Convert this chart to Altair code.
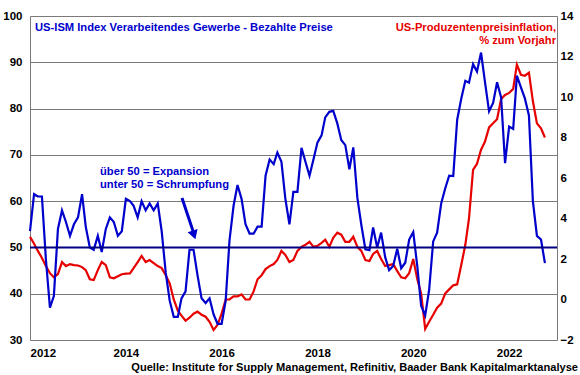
import altair as alt
import pandas as pd

# US-ISM Manufacturing prices paid index (monthly, Jan 2012 - Oct 2022)
ism_prices = [
    53.5, 61.5, 61.0, 61.0, 47.5, 37.0, 39.5, 54.0, 58.0, 55.5, 52.5, 55.0,
    56.5, 61.5, 54.5, 50.0, 49.5, 52.5, 49.0, 54.0, 56.5, 55.5, 52.5, 53.5,
    60.5, 60.0, 59.0, 56.5, 60.0, 58.0, 59.5, 58.0, 59.5, 53.5, 44.5, 38.5,
    35.0, 35.0, 39.0, 40.5, 49.5, 49.5, 44.0, 39.0, 38.0, 39.0, 35.5, 33.5,
    33.5, 38.5, 51.5, 59.0, 63.5, 60.5, 55.0, 53.0, 53.0, 54.5, 54.5, 65.5,
    69.0, 68.0, 70.5, 68.5, 60.5, 55.0, 62.0, 62.0, 71.5, 68.5, 65.5, 69.0,
    72.7, 74.2, 78.1, 79.3, 79.5, 76.8, 73.2, 72.1, 66.9, 71.6, 60.7, 54.9,
    49.6, 49.4, 54.3, 50.0, 53.2, 47.9, 45.1, 46.0, 49.7, 45.5, 46.7, 51.7,
    53.3, 45.9, 37.4, 35.3, 40.8, 51.3, 53.2, 59.5, 62.8, 65.5, 65.4, 77.6,
    82.1, 86.0, 85.6, 89.6, 88.0, 92.1, 85.7, 79.4, 81.2, 85.7, 82.4, 68.2,
    76.1, 75.6, 87.1, 84.6, 82.2, 78.5, 60.0, 52.5, 51.7, 46.6,
]

# US producer price inflation, % y/y (monthly, Jan 2012 - Oct 2022)
ppi_yoy = [
    3.1, 2.75, 2.4, 2.05, 1.65, 1.3, 1.1, 1.25, 1.85, 1.65, 1.75, 1.7,
    1.68, 1.6, 1.45, 1.0, 0.96, 1.45, 1.85, 1.7, 1.1, 1.05, 1.15, 1.25,
    1.28, 1.29, 1.55, 1.85, 2.15, 1.85, 1.95, 1.8, 1.65, 1.55, 1.2, 0.8,
    0.0, -0.55, -0.8, -1.05, -0.9, -0.7, -0.6, -0.75, -0.85, -1.1, -1.5, -1.25,
    -0.7, 0.0, 0.0, 0.15, 0.15, 0.25, 0.0, 0.0, 0.4, 1.0, 1.2, 1.5,
    1.65, 1.75, 1.95, 2.4, 2.2, 1.85, 1.95, 2.4, 2.6, 2.7, 2.85, 2.6,
    2.65, 2.8, 2.95, 2.6, 3.05, 3.3, 3.2, 2.85, 2.85, 3.1, 2.6, 2.4,
    1.95, 1.9, 2.25, 2.4, 2.0, 1.65, 1.7, 1.75, 1.4, 1.1, 1.05, 1.3,
    2.0, 1.0, 0.3, -1.45, -1.1, -0.75, -0.4, -0.2, 0.3, 0.5, 0.7, 0.75,
    1.7, 2.7, 4.0, 6.4, 6.7, 7.4, 7.8, 8.5, 8.7, 8.9, 9.9, 10.1,
    10.2, 10.4, 11.6, 11.1, 11.05, 11.2, 9.8, 8.7, 8.45, 8.0,
]

left_ticks = [30, 40, 50, 60, 70, 80, 90, 100]
right_ticks = [-2, 0, 2, 4, 6, 8, 10, 12, 14]
year_ticks = [2012, 2014, 2016, 2018, 2020, 2022]
threshold = [50]

title_left = ["US-ISM Index Verarbeitendes Gewerbe - Bezahlte Preise"]
title_right = ["US-Produzentenpreisinflation,", "% zum Vorjahr"]
note_lines = ["über 50 = Expansion", "unter 50 = Schrumpfung"]
source = ["Quelle: Institute for Supply Management, Refinitiv, Baader Bank Kapitalmarktanalyse"]

months = pd.date_range("2012-01-01", periods=len(ism_prices), freq="MS").strftime("%Y-%m-%dT00:00:00").tolist()
df = pd.DataFrame({"Monat": months, "ISM": ism_prices, "PPI": ppi_yoy})

FONT = "Liberation Sans"
BLUE = "#0000CC"
RED = "#E60000"
NAVY = "#000080"
GRID = "#7a7a7a"
TXT = 11.2
AX = 11.5

W, H = 527, 324

x_enc = alt.X(
    "Monat:T",
    scale=alt.Scale(domain=[alt.DateTime(year=2012, month=1, date=1),
                            alt.DateTime(year=2023, month=1, date=1)]),
    axis=alt.Axis(values=[alt.DateTime(year=y, month=1, date=1) for y in year_ticks],
                  format="%Y", title=None, grid=False, domain=False, ticks=False,
                  labelPadding=7, labelFont=FONT, labelFontSize=AX,
                  labelFontWeight="bold", labelColor="black"),
)

base = alt.Chart(df)

blue_line = base.mark_line(color=BLUE, strokeWidth=2.2).encode(
    x=x_enc,
    y=alt.Y("ISM:Q",
            scale=alt.Scale(domain=[30, 100], nice=False, zero=False),
            axis=alt.Axis(values=left_ticks, orient="left", title=None, grid=True,
                          gridColor=GRID, gridWidth=1, domainColor=GRID,
                          ticks=False, labelPadding=8, labelFont=FONT,
                          labelFontSize=AX, labelFontWeight="bold",
                          labelColor="black")),
)

rule50 = alt.Chart(pd.DataFrame({"v": threshold})).mark_rule(
    color=NAVY, strokeWidth=2).encode(y="v:Q")

left_group = alt.layer(blue_line, rule50)

red_line = base.mark_line(color=RED, strokeWidth=2.2).encode(
    x=x_enc,
    y=alt.Y("PPI:Q",
            scale=alt.Scale(domain=[-2, 14], nice=False, zero=False),
            axis=alt.Axis(values=right_ticks, orient="right", title=None, grid=False,
                          domainColor=GRID, ticks=False, labelPadding=3,
                          labelFont=FONT, labelFontSize=AX, labelFontWeight="bold",
                          labelColor="black")),
)

lines = alt.layer(red_line, left_group).resolve_scale(y="independent")


def label(text_list, x, y, color, align, size=TXT):
    return alt.Chart(pd.DataFrame({"t": text_list})).mark_text(
        font=FONT, fontSize=size, fontWeight="bold", color=color, align=align,
        baseline="middle").encode(text="t:N", x=alt.value(x), y=alt.value(y))


t_left = label(title_left, 5, 12, BLUE, "left")
t_right1 = label(title_right[:1], 526, 12, RED, "right")
t_right2 = label(title_right[1:], 526, 24.5, RED, "right")
note1 = label(note_lines[:1], 70, 155.5, BLUE, "left")
note2 = label(note_lines[1:], 70, 168.5, BLUE, "left")

arrow_shaft = alt.Chart(pd.DataFrame({"a": [1]})).mark_rule(
    color=BLUE, strokeWidth=3).encode(
    x=alt.value(152), y=alt.value(182), x2=alt.value(163), y2=alt.value(215))
arrow_head = alt.Chart(pd.DataFrame({"a": [1]})).mark_point(
    shape="triangle-up", filled=True, color=BLUE, size=110, angle=162, opacity=1).encode(
    x=alt.value(164), y=alt.value(219))

src = label(source, 548, 351.5, "black", "right", size=11.1)

chart = alt.layer(
    lines, t_left, t_right1, t_right2, note1, note2, arrow_shaft, arrow_head, src
).properties(
    width=W, height=H,
    autosize=alt.AutoSizeParams(type="none"),
    padding={"left": 30, "top": 16, "right": 23, "bottom": 35},
).configure_view(stroke=None).configure(background="white")

chart.save("out.html", embed_options={"renderer": "svg", "actions": False})
